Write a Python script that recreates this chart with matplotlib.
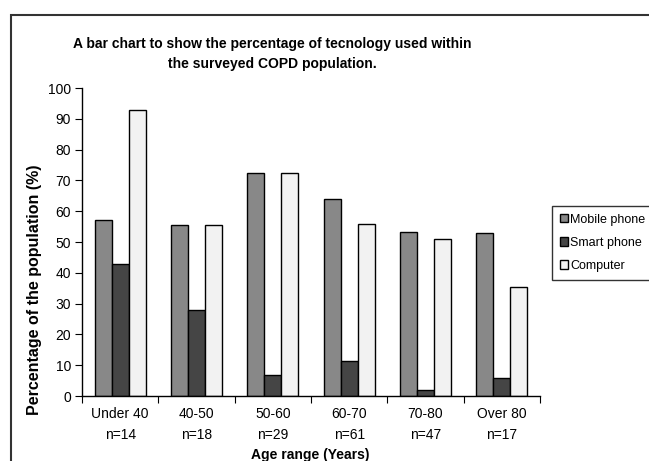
import matplotlib
matplotlib.use("Agg")
import matplotlib.pyplot as plt
from matplotlib.patches import Rectangle
import numpy as np

categories = ["Under 40", "40-50", "50-60", "60-70", "70-80", "Over 80"]
sample_sizes = ["n=14", "n=18", "n=29", "n=61", "n=47", "n=17"]
mobile_phone = [57.1, 55.6, 72.4, 63.9, 53.2, 52.9]
smart_phone = [42.9, 27.8, 6.9, 11.5, 2.1, 5.9]
computer = [92.9, 55.6, 72.4, 55.7, 51.1, 35.3]
series_names = ["Mobile phone", "Smart phone", "Computer"]
colors = ["#888888", "#454545", "#f2f2f2"]

plt.rcParams['font.family'] = ['Liberation Sans', 'DejaVu Sans']

W, H = 649, 461
fig = plt.figure(figsize=(W / 100, H / 100), dpi=100)
ax = fig.add_axes([82 / W, 1 - 396 / H, (540 - 82) / W, (396 - 88) / H])

x = np.arange(len(categories))
bw = 0.223
for i, (vals, name, c) in enumerate(zip([mobile_phone, smart_phone, computer], series_names, colors)):
    ax.bar(x + (i - 1) * bw, vals, width=bw, color=c, edgecolor="black",
           linewidth=1.0, label=name)

ax.set_xlim(-0.5, len(categories) - 0.5)
ax.set_ylim(0, 100)
ax.set_yticks(np.arange(0, 101, 10))
ax.tick_params(axis='y', labelsize=10, length=5, direction='out', pad=3)
ax.set_xticks(np.arange(len(categories) + 1) - 0.5)
ax.set_xticklabels([])
ax.set_xticks(x, minor=True)
ax.set_xticklabels([f"{c}\n{n}" for c, n in zip(categories, sample_sizes)],
                   minor=True, fontsize=10, linespacing=1.6)
ax.tick_params(axis='x', which='major', length=5, direction='out')
ax.tick_params(axis='x', which='minor', length=0, pad=8)
for s in ["top", "right"]:
    ax.spines[s].set_visible(False)
for s in ["left", "bottom"]:
    ax.spines[s].set_linewidth(1.0)

fig.text(35 / W, 1 - 290 / H, "Percentage of the population (%)", rotation=90,
         ha="center", va="center", fontsize=11.5, fontweight="bold")
fig.text(310 / W, 1 - 455 / H, "Age range (Years)", ha="center", va="center",
         fontsize=10, fontweight="bold")

fig.text(272 / W, 1 - 54 / H,
         "A bar chart to show the percentage of tecnology used within\nthe surveyed COPD population.",
         ha="center", va="center", fontsize=10, fontweight="bold", linespacing=1.6)

# outer frame
fig.add_artist(Rectangle((11 / W, -0.1), 1.0, 1 - 15 / H + 0.1, transform=fig.transFigure,
                         fill=False, edgecolor="#333333", linewidth=1.5))

leg = fig.legend(loc="upper left", bbox_to_anchor=(552 / W, 1 - 206 / H),
                 fontsize=9.0, frameon=True, fancybox=False, edgecolor="black",
                 handlelength=0.65, handleheight=0.65, handletextpad=0.2,
                 borderpad=0.6, labelspacing=0.9, borderaxespad=0)
leg.get_frame().set_linewidth(1.0)

fig.savefig("out.png", dpi=100)
